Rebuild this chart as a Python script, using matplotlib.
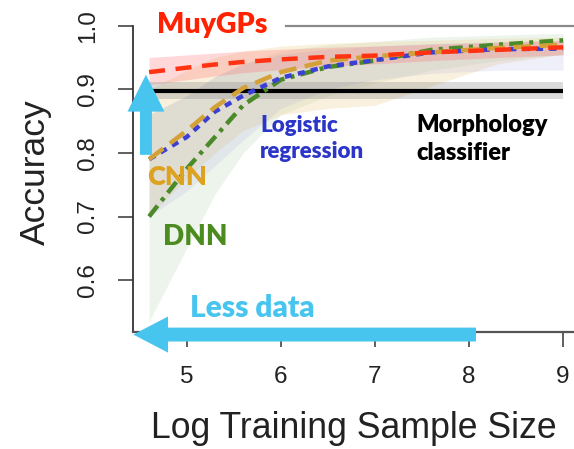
import matplotlib
matplotlib.use("Agg")
import matplotlib.pyplot as plt
import numpy as np

# ---------------- data ----------------
log_size = [4.6, 5.0, 5.3, 5.6, 6.0, 6.5, 7.0, 7.6, 8.3, 9.0]

muygps = [0.927, 0.934, 0.939, 0.943, 0.947, 0.951, 0.953, 0.958, 0.962, 0.966]
muygps_lo = [0.907, 0.915, 0.921, 0.926, 0.931, 0.936, 0.940, 0.945, 0.950, 0.954]
muygps_hi = [0.950, 0.954, 0.957, 0.960, 0.963, 0.966, 0.968, 0.971, 0.974, 0.977]

cnn = [0.790, 0.835, 0.872, 0.902, 0.927, 0.945, 0.952, 0.958, 0.965, 0.970]
cnn_lo = [0.700, 0.760, 0.800, 0.835, 0.860, 0.870, 0.875, 0.905, 0.940, 0.955]
cnn_hi = [0.900, 0.930, 0.950, 0.960, 0.968, 0.972, 0.975, 0.977, 0.980, 0.982]

logistic = [0.790, 0.825, 0.865, 0.890, 0.918, 0.936, 0.946, 0.958, 0.963, 0.964]
logistic_lo = [0.700, 0.740, 0.780, 0.820, 0.870, 0.900, 0.915, 0.925, 0.930, 0.930]
logistic_hi = [0.860, 0.890, 0.920, 0.940, 0.955, 0.963, 0.968, 0.972, 0.975, 0.976]

dnn = [0.700, 0.775, 0.825, 0.875, 0.915, 0.935, 0.945, 0.962, 0.970, 0.977]
dnn_lo = [0.535, 0.650, 0.735, 0.800, 0.860, 0.890, 0.910, 0.930, 0.945, 0.955]
dnn_hi = [0.860, 0.890, 0.920, 0.940, 0.960, 0.970, 0.975, 0.982, 0.985, 0.988]

morph_x = [4.6, 9.0]
morph = [0.898, 0.898]
morph_lo = [0.884, 0.884]
morph_hi = [0.912, 0.912]

x_ticks = [5, 6, 7, 8, 9]
y_ticks = [0.6, 0.7, 0.8, 0.9, 1.0]

# ---------------- figure ----------------
W, H = 574, 449
fig = plt.figure(figsize=(W / 100, H / 100), dpi=100)

def fx(px):
    return px / W

def fy(py):
    return 1 - py / H

ax_left, ax_right, ax_bottom, ax_top = 133.3, 574, 331.7, 10
ax = fig.add_axes([fx(ax_left), fy(ax_bottom), (ax_right - ax_left) / W,
                   (ax_bottom - ax_top) / H])
ax.set_xlim(4.4325, 4.4325 + (ax_right - ax_left) / 94.1)
ax.set_ylim(0.519, 1.0 + (25.7 - ax_top) / 637)

RED = "#ff3312"
GOLD = "#d4a038"
BLUE = "#3b3fd6"
GREEN = "#4a8a28"

# bands
ax.fill_between(log_size, dnn_lo, dnn_hi, color="#a8c8a0", alpha=0.2, lw=0, zorder=1)
ax.fill_between(log_size, cnn_lo, cnn_hi, color="#ecd090", alpha=0.3, lw=0, zorder=1)
ax.fill_between(log_size, logistic_lo, logistic_hi, color="#9898e0", alpha=0.15, lw=0, zorder=1)
ax.fill_between(log_size, muygps_lo, muygps_hi, color="#ff6868", alpha=0.25, lw=0, zorder=1)
ax.fill_between(morph_x, morph_lo, morph_hi, color="#888888", alpha=0.3, lw=0, zorder=1)

# reference line at 1.0
ax.axhline(1.0, xmin=(286 - ax_left) / (ax_right - ax_left), color="#8a8a8a", lw=1.6, zorder=2)

# morphology
ax.plot(morph_x, morph, color="black", lw=3.0, zorder=3, solid_capstyle="butt")

lw = 3.2
ax.plot(log_size, dnn, color=GREEN, lw=lw, ls=(0, (3.1, 1.4, 0.9, 1.4)), zorder=4)
ax.plot(log_size, logistic, color=BLUE, lw=lw, ls=(0, (1.6, 1.4)), zorder=4)
ax.plot(log_size, cnn, color=GOLD, lw=lw, ls=(0, (4.0, 1.9)), zorder=4)
ax.plot(log_size, muygps, color=RED, lw=lw, ls=(0, (3.6, 2.4)), zorder=5)

# axes styling
for s in ["top", "right"]:
    ax.spines[s].set_visible(False)
ax.spines["left"].set_bounds(0.519, 1.0)
ax.spines["left"].set_color("#333333")
ax.spines["left"].set_linewidth(1.3)
ax.spines["bottom"].set_color("#555555")
ax.spines["bottom"].set_linewidth(1.6)
ax.set_xticks(x_ticks)
ax.set_xticklabels([str(v) for v in x_ticks])
ax.set_yticks(y_ticks)
ax.set_yticklabels([f"{v:.1f}" for v in y_ticks])
ax.tick_params(axis="both", length=10.8, width=1.2, color="#444444",
               labelsize=17.5, pad=14, labelcolor="#222222")
for t in ax.get_xticklabels() + ax.get_yticklabels():
    t.set_fontfamily(["Liberation Sans", "DejaVu Sans"])
plt.setp(ax.get_yticklabels(), rotation=90, va="center")
ax.patch.set_visible(False)

# axis titles
fig.text(fx(35), fy(172), "Accuracy", rotation=90, ha="center", va="center",
         fontsize=25.5, color="#222222", family=["Liberation Sans", "DejaVu Sans"])
fig.text(fx(353.5), fy(428), "Log Training Sample Size", ha="center", va="center",
         fontsize=25.7, color="#222222", family=["Liberation Sans", "DejaVu Sans"])

# arrows
ARROW_C = "#47c5ee"
ax.annotate("", xy=(4.567, 0.923), xytext=(4.567, 0.797),
            arrowprops=dict(arrowstyle="simple,head_length=26.6,head_width=26.6,tail_width=8.6",
                            mutation_scale=1, color=ARROW_C, lw=0, shrinkA=0, shrinkB=0),
            zorder=6, annotation_clip=False)
ax.annotate("", xy=(4.4325, 0.5145), xytext=(8.074, 0.5145),
            arrowprops=dict(arrowstyle="simple,head_length=25,head_width=26,tail_width=10",
                            mutation_scale=1, color=ARROW_C, lw=0, shrinkA=0, shrinkB=0),
            zorder=7, annotation_clip=False)

# annotation labels
lab = dict(family=["Lato", "DejaVu Sans"], fontweight="heavy", ha="left", va="baseline")
fig.text(fx(157), fy(33), "MuyGPs", color="#ff2200", fontsize=20.5, **lab)
fig.text(fx(147), fy(185), "CNN", color="#dda21f", fontsize=19.5, **lab)
fig.text(fx(163), fy(245), "DNN", color="#4c8c1f", fontsize=20, **lab)
fig.text(fx(260), fy(132), "Logistic", color="#2b35c8", fontsize=16, **lab)
fig.text(fx(260), fy(158), "regression", color="#2b35c8", fontsize=16, **lab)
fig.text(fx(416), fy(132), "Morphology", color="black", fontsize=17, **lab)
fig.text(fx(416), fy(160), "classifier", color="black", fontsize=17, **lab)
fig.text(fx(190), fy(317), "Less data", color=ARROW_C, fontsize=21.5, **lab)

fig.savefig("out.png", dpi=100)
